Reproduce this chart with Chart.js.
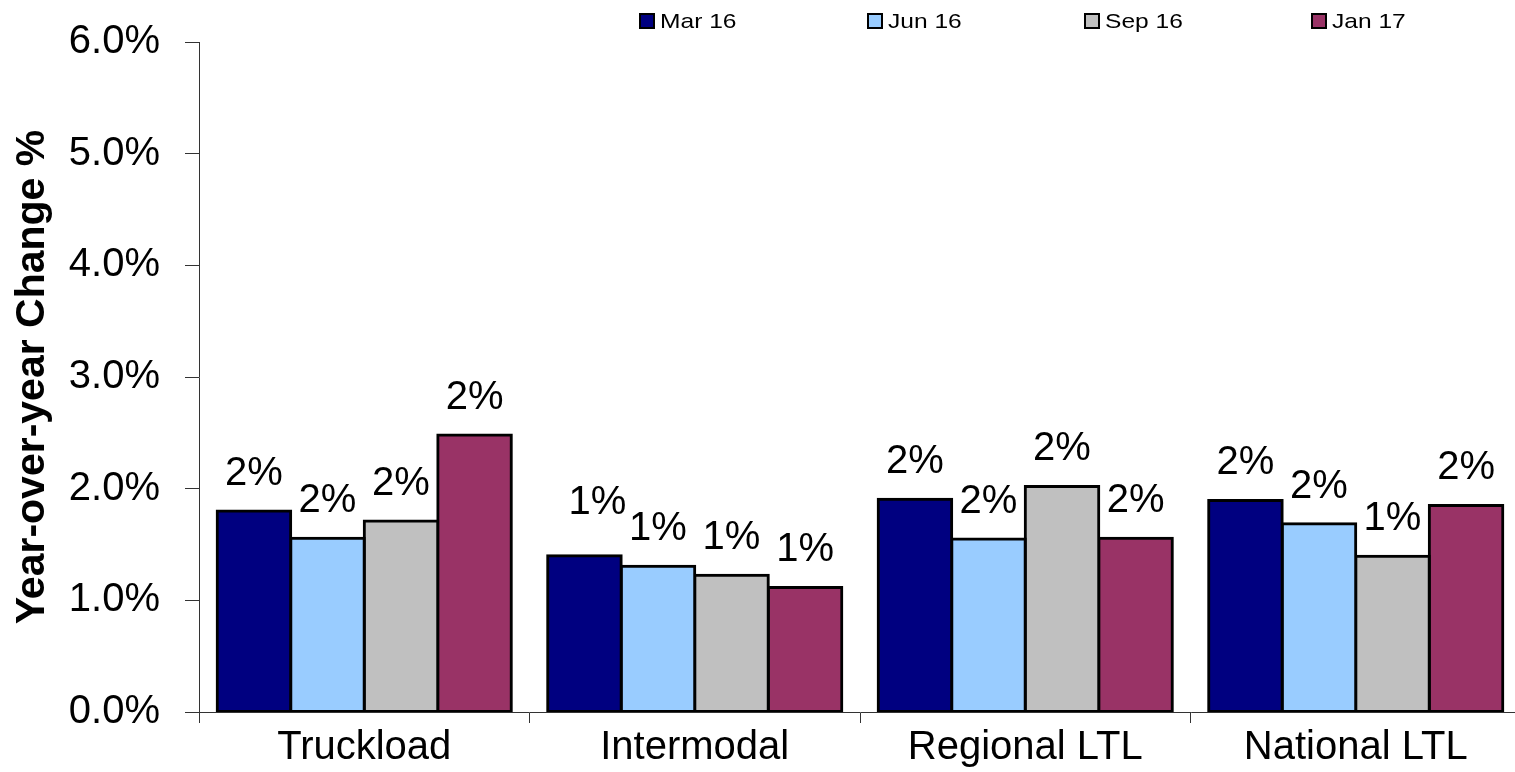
<!DOCTYPE html>
<html>
<head>
<meta charset="utf-8">
<script src="https://cdn.jsdelivr.net/npm/chart.js@4.4.1/dist/chart.umd.min.js"></script>
<style>
  html, body { margin: 0; padding: 0; background: #fff; overflow: hidden; width: 1515px; height: 772px; }
  #wrap { position: relative; width: 1525px; height: 772px; }
  #legend { position: absolute; left: 0; top: 0; width: 1515px; height: 40px; font-family: "Liberation Sans", Arial, sans-serif; }
  .item { position: absolute; top: 10px; height: 21px; white-space: nowrap; }
  .box { position: absolute; left: 0; top: 3px; width: 16px; height: 16px; box-sizing: border-box; border: 2.5px solid #000; }
  .txt { position: absolute; left: 21px; top: 0; font-size: 21px; line-height: 21px; color: #000; transform: scaleX(1.17); transform-origin: left top; }
</style>
</head>
<body>
<div id="wrap">
  <canvas id="c" width="1525" height="772"></canvas>
  <div id="legend"></div>
</div>
<script>
const categories = ["Truckload", "Intermodal", "Regional LTL", "National LTL"];
const seriesNames = ["Mar 16", "Jun 16", "Sep 16", "Jan 17"];
const mar16 = [1.80, 1.40, 1.905, 1.895];
const jun16 = [1.555, 1.305, 1.55, 1.685];
const sep16 = [1.71, 1.225, 2.02, 1.395];
const jan17 = [2.48, 1.115, 1.555, 1.85];
const yTicks = [0, 1, 2, 3, 4, 5, 6];

const colors = ["#000080", "#99CCFF", "#C0C0C0", "#993366"];
const legendLeft = [639, 867, 1084, 1311];
const FONT = '"Liberation Sans", Arial, sans-serif';

const seriesValues = [mar16, jun16, sep16, jan17];

// HTML legend
const lg = document.getElementById('legend');
seriesNames.forEach((n, i) => {
  const it = document.createElement('div');
  it.className = 'item';
  it.style.left = legendLeft[i] + 'px';
  const b = document.createElement('div');
  b.className = 'box';
  b.style.background = colors[i];
  const t = document.createElement('span');
  t.className = 'txt';
  t.textContent = n;
  it.appendChild(b); it.appendChild(t);
  lg.appendChild(it);
});

const labelPlugin = {
  id: 'barLabels',
  afterDatasetsDraw(chart, args, opts) {
    const ctx = chart.ctx;
    ctx.save();
    ctx.font = '40px ' + FONT;
    ctx.fillStyle = '#000';
    ctx.textAlign = 'center';
    ctx.textBaseline = 'alphabetic';
    chart.data.datasets.forEach((ds, di) => {
      const meta = chart.getDatasetMeta(di);
      meta.data.forEach((el, i) => {
        const v = ds.data[i];
        const off = (opts.offsets && opts.offsets[di + '-' + i]) || [0, 0];
        ctx.fillText(Math.round(v) + '%', el.x + off[0], el.y - 26 + off[1]);
      });
    });
    ctx.restore();
  }
};

new Chart(document.getElementById('c'), {
  type: 'bar',
  data: {
    labels: categories,
    datasets: seriesNames.map((n, i) => ({
      label: n,
      data: seriesValues[i],
      backgroundColor: colors[i],
      borderColor: '#000',
      borderWidth: 3,
      inflateAmount: 1.5,
      borderSkipped: false,
      categoryPercentage: 0.89,
      barPercentage: 1.0
    }))
  },
  options: {
    responsive: false,
    animation: false,
    devicePixelRatio: 1,
    layout: { padding: { left: 0, right: 4, top: 42, bottom: 0 } },
    plugins: {
      legend: { display: false },
      tooltip: { enabled: false },
      barLabels: { offsets: { '0-1': [13, -16] } }
    },
    scales: {
      x: {
        grid: { display: true, drawOnChartArea: false, drawTicks: true, tickLength: 11, color: '#333', offset: true },
        border: { display: true, color: '#333', width: 1 },
        ticks: { color: '#000', font: { family: FONT, size: 40 }, padding: 1, maxRotation: 0, autoSkip: false },
        afterFit(s) { s.height = 60; }
      },
      y: {
        min: 0, max: 6,
        afterBuildTicks(s) { s.ticks = yTicks.map(v => ({ value: v })); },
        grid: { display: true, drawOnChartArea: false, drawTicks: true, tickLength: 14, color: '#333' },
        border: { display: true, color: '#333', width: 1 },
        ticks: { color: '#000', font: { family: FONT, size: 40, lineHeight: 0.8 }, padding: 25, callback: v => v.toFixed(1) + '%' },
        title: { display: true, text: 'Year-over-year Change %', color: '#000', font: { family: FONT, size: 41, weight: 'bold' }, padding: { top: 8, bottom: 0 } },
        afterFit(s) { s.width = 199; s.paddingTop = 0; s.paddingBottom = 0; }
      }
    }
  },
  plugins: [labelPlugin]
});
</script>
</body>
</html>
